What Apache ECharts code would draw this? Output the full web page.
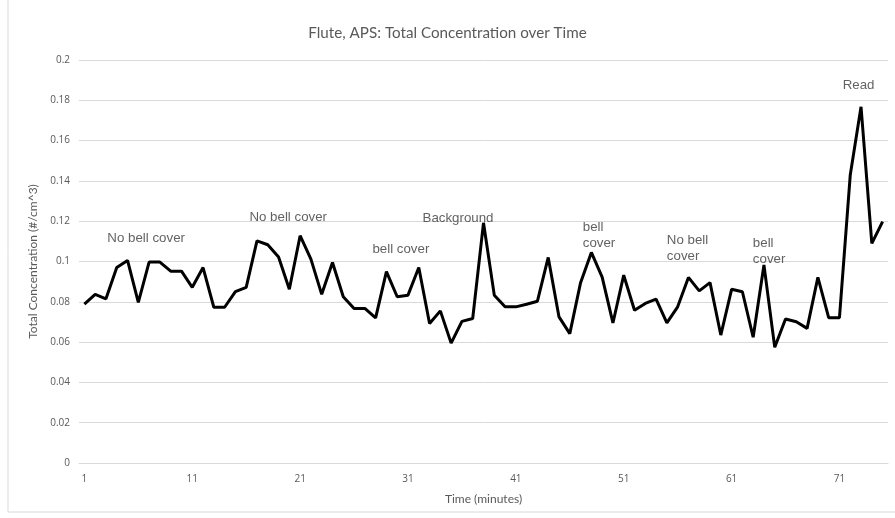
<!DOCTYPE html>
<html>
<head>
<meta charset="utf-8">
<script src="https://cdn.jsdelivr.net/npm/echarts@6/dist/echarts.min.js"></script>
<style>
  html, body { margin: 0; padding: 0; background: #fff; }
  #chart { width: 895px; height: 518px; }
</style>
</head>
<body>
<div id="chart"></div>
<script>
// minutes 1..75
const minutes = Array.from({ length: 75 }, (_, i) => String(i + 1))

const concentration = [
  0.0788, 0.0837, 0.0815, 0.0970, 0.1005, 0.0797, 0.0997, 0.0997, 0.0952, 0.0952,
  0.0872, 0.0970, 0.0773, 0.0773, 0.0850, 0.0872, 0.1102, 0.1083, 0.1022, 0.0862,
  0.1128, 0.1012, 0.0837, 0.0995, 0.0825, 0.0767, 0.0767, 0.0720, 0.0950, 0.0825,
  0.0833, 0.0970, 0.0692, 0.0755, 0.0595, 0.0703, 0.0717, 0.1192, 0.0833, 0.0775,
  0.0775, 0.0788, 0.0803, 0.1020, 0.0725, 0.0642, 0.0895, 0.1045, 0.0922, 0.0695,
  0.0932, 0.0758, 0.0792, 0.0813, 0.0695, 0.0775, 0.0921, 0.0854, 0.0895, 0.0635,
  0.0862, 0.0850, 0.0624, 0.0983, 0.0574, 0.0715, 0.0701, 0.0668, 0.0921, 0.0721,
  0.0721, 0.1429, 0.1768, 0.1090, 0.1198
]

// text notes placed in data space (minute position of left edge, concentration)
const noteTexts = ['No bell cover', 'No bell cover', 'bell cover', 'Background',
  'bell\ncover', 'No bell\ncover', 'bell\ncover', 'Read']
const noteMinute = [3.13, 16.3, 27.7, 32.35, 47.2, 55.0, 62.97, 71.3]
const noteValue = [0.1117, 0.1221, 0.1062, 0.1216, 0.1132, 0.1067, 0.1052, 0.1876]

const chart = echarts.init(document.getElementById('chart'))

const grey = '#595959'

const option = {
  animation: false,
  title: {
    text: 'Flute, APS: Total Concentration over Time',
    left: 'center',
    top: 21,
    textStyle: { color: grey, fontSize: 15.2, fontWeight: 'normal', fontFamily: 'Lato' },
  },
  graphic: [
    {
      type: 'rect',
      shape: { x: 8, y: -2, width: 900, height: 514 },
      style: { fill: 'none', stroke: '#d9d9d9', lineWidth: 1 },
      silent: true,
    },
  ],
  grid: { left: 79, right: 7, top: 60, bottom: 55 },
  xAxis: [
    {
      type: 'category',
      data: minutes,
      boundaryGap: true,
      name: 'Time (minutes)',
      nameLocation: 'middle',
      nameGap: 30,
      nameTextStyle: { color: grey, fontSize: 12, fontFamily: 'Lato' },
      axisLine: { lineStyle: { color: '#d9d9d9' } },
      axisTick: { show: false },
      axisLabel: { interval: 9, color: grey, fontSize: 10, margin: 11, fontFamily: 'Open Sans' },
    },
    {
      type: 'value',
      min: 0.5,
      max: 75.5,
      show: false,
    },
  ],
  yAxis: {
    type: 'value',
    min: 0,
    max: 0.2,
    interval: 0.02,
    name: 'Total Concentration (#/cm^3)',
    nameLocation: 'middle',
    nameGap: 37,
    nameTextStyle: { color: grey, fontSize: 12, fontFamily: 'Lato' },
    axisLine: { show: false },
    axisTick: { show: false },
    splitLine: { lineStyle: { color: '#d9d9d9' } },
    axisLabel: { color: grey, fontSize: 10, margin: 9, fontFamily: 'Open Sans' },
  },
  series: [
    {
      name: 'Total Concentration',
      type: 'line',
      data: concentration,
      showSymbol: false,
      symbol: 'none',
      lineStyle: { color: '#000', width: 3 },
      itemStyle: { color: '#000' },
    },
    {
      name: 'notes',
      type: 'scatter',
      xAxisIndex: 1,
      symbolSize: 0,
      silent: true,
      data: noteTexts.map((t, i) => [noteMinute[i], noteValue[i], t]),
      label: {
        show: true,
        position: 'inside',
        align: 'left',
        verticalAlign: 'middle',
        formatter: p => p.data[2],
        color: '#3a3a3a',
        fontSize: 13.3,
        lineHeight: 16,
        fontFamily: 'Liberation Sans',
      },
    },
  ],
}

chart.setOption(option)
</script>
</body>
</html>
